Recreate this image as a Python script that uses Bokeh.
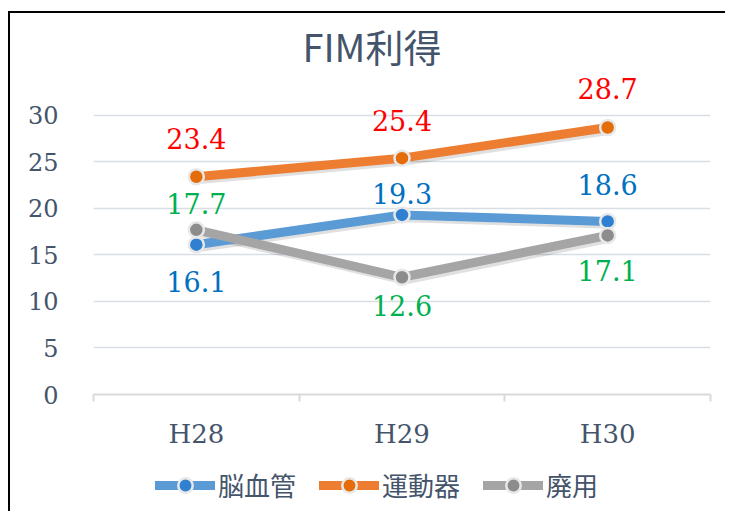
from bokeh.plotting import figure
from bokeh.layouts import column
from bokeh.models import (Range1d, FixedTicker, Legend, LegendItem, ColumnDataSource, Title)
from bokeh.core.properties import value
from bokeh.embed import file_html
from bokeh.resources import INLINE

categories = ["H28", "H29", "H30"]
series_names = ["脳血管", "運動器", "廃用"]
nou = [16.1, 19.3, 18.6]
undo = [23.4, 25.4, 28.7]
haiyou = [17.7, 12.6, 17.1]
y_ticks = [0, 5, 10, 15, 20, 25, 30]

# label placement (screen px, negative = above point)
label_dy = [
    [37, -21, -37],
    [-38, -38, -39],
    [-26, 28, 35],
]

line_colors = ["#5B9BD5", "#ED7D31", "#A5A5A5"]
marker_colors = ["#2F80D1", "#E46C0A", "#8C8C8C"]
label_colors = ["#0070C0", "#FF0000", "#00B050"]
text_color = "#44546A"
serif = "DejaVu Serif"
sans = "Noto Sans CJK JP"

p = figure(width=725, height=460, output_backend="svg", toolbar_location=None,
           x_range=Range1d(0, 3), y_range=Range1d(0, 34.5),
           min_border_left=93, min_border_right=15, min_border_top=73, min_border_bottom=66)
p.outline_line_color = None
p.background_fill_color = "white"
p.border_fill_alpha = 0

t = Title(text="FIM利得", align="left", offset=209, text_font=sans, text_font_size="38px",
          text_color=text_color, text_font_style="normal", standoff=1)
p.add_layout(t, "above")

# axes
p.yaxis.ticker = FixedTicker(ticks=y_ticks)
p.yaxis.axis_line_color = None
p.yaxis.major_tick_line_color = None
p.yaxis.minor_tick_line_color = None
p.yaxis.major_label_standoff = 29
p.yaxis.major_label_text_font = serif
p.yaxis.major_label_text_font_size = "24px"
p.yaxis.major_label_text_color = text_color

xpos = [i + 0.5 for i in range(len(categories))]
p.xaxis.ticker = FixedTicker(ticks=xpos, minor_ticks=list(range(len(categories) + 1)))
p.xaxis.major_label_overrides = {x: c for x, c in zip(xpos, categories)}
p.xaxis.axis_line_color = "#D9D9D9"
p.xaxis.axis_line_width = 2
p.xaxis.major_tick_line_color = None
p.xaxis.major_tick_out = 0
p.xaxis.major_tick_in = 0
p.xaxis.minor_tick_line_color = "#D9D9D9"
p.xaxis.minor_tick_line_width = 2
p.xaxis.minor_tick_out = 7
p.xaxis.minor_tick_in = 0
p.xaxis.major_label_standoff = 17
p.xaxis.major_label_text_font = serif
p.xaxis.major_label_text_font_size = "26px"
p.xaxis.major_label_text_color = text_color

p.xgrid.grid_line_color = None
p.ygrid.grid_line_color = "#D9DEE5"
p.ygrid.grid_line_width = 1.5
p.ygrid.ticker = FixedTicker(ticks=y_ticks)

all_vals = [nou, undo, haiyou]
for k, vals in enumerate(all_vals):
    sx = [x + 0.012 for x in xpos]
    sy = [v - 0.3 for v in vals]
    p.line(sx, sy, line_color="black", line_alpha=0.12, line_width=9, line_join="round")
for k, vals in enumerate(all_vals):
    src = ColumnDataSource(dict(x=xpos, y=vals,
                                lbl=[f"{v:.1f}" for v in vals], dy=label_dy[k]))
    p.line("x", "y", source=src, line_color=line_colors[k], line_width=9,
           line_join="round", line_cap="round")
    p.scatter("x", "y", source=src, size=15, fill_color=marker_colors[k],
              line_color="#E8E8E8", line_width=2.5)
    p.text("x", "y", text="lbl", source=src, y_offset="dy", text_align="center",
           text_baseline="middle", text_font=value(serif), text_font_size="27px",
           text_color=label_colors[k])

# legend strip (its glyphs sit outside the visible range; only the legend shows)
p2 = figure(width=725, height=51, output_backend="svg", toolbar_location=None,
            x_range=Range1d(0, 1), y_range=Range1d(0, 1),
            min_border_left=25, min_border_right=0, min_border_top=0, min_border_bottom=0)
p2.axis.visible = False
p2.grid.visible = False
p2.outline_line_color = None
p2.background_fill_alpha = 0
p2.border_fill_alpha = 0
items = []
for k in range(3):
    r1 = p2.line(x=[-5, -4], y=[-5, -5], line_color=line_colors[k], line_width=9,
                 line_cap="round")
    r2 = p2.scatter(x=[-5], y=[-5], fill_color=marker_colors[k], line_color="#E8E8E8",
                    line_width=2.5)
    items.append(LegendItem(label=series_names[k], renderers=[r1, r2]))
legend = Legend(items=items, orientation="horizontal", location=(62, 8),
                glyph_width=60, glyph_height=36, label_text_font=sans,
                label_text_font_size="26px", label_text_color=text_color,
                border_line_color=None, background_fill_alpha=0,
                spacing=23, label_standoff=3, margin=0, padding=0)
p2.add_layout(legend, "center")

layout = column(p, p2, spacing=0)
layout.styles = {
    "background-image": "linear-gradient(#000, #000), linear-gradient(#000, #000)",
    "background-size": "2px 100%, 100% 2px",
    "background-position": "8px 11px, 8px 11px",
    "background-repeat": "no-repeat",
}

open("out.html", "w").write(file_html(layout, INLINE))
